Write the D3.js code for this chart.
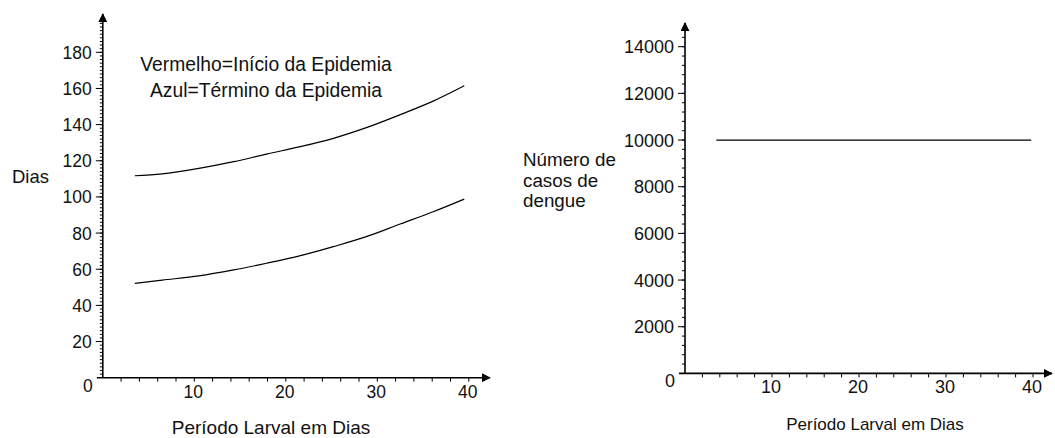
<!DOCTYPE html>
<html>
<head>
<meta charset="utf-8">
<script src="https://cdn.jsdelivr.net/npm/d3@7"></script>
<style>
  body { margin: 0; background: #fff; }
  svg { display: block; }
  text { font-family: "Liberation Sans", Arial, sans-serif; fill: #111; }
</style>
</head>
<body>
<svg class="chart" width="1055" height="438"></svg>
<script>
// período larval (dias) e dias de início / término da epidemia
var periodo = [3.5, 6.5, 10.5, 14.3, 17.9, 21.6, 25.2, 28.8, 32.5, 36.1, 39.5];
var inicio  = [52.2, 54.0, 56.3, 59.6, 63.3, 67.5, 72.5, 78.0, 85.0, 91.8, 98.8];
var termino = [111.7, 112.7, 115.8, 119.5, 123.7, 127.8, 132.4, 138.3, 145.5, 153.0, 161.5];

// número de casos de dengue
var periodoCasos = [3.6, 39.8];
var casos = [10000, 10000];

var xTicks = [10, 20, 30, 40];
var yTicksDias = [20, 40, 60, 80, 100, 120, 140, 160, 180];
var yTicksCasos = [2000, 4000, 6000, 8000, 10000, 12000, 14000];

var svg = d3.select('.chart');

svg.append('defs').append('marker')
  .attr('id', 'seta')
  .attr('viewBox', '0 0 10 10')
  .attr('refX', 9).attr('refY', 5)
  .attr('markerWidth', 9).attr('markerHeight', 9)
  .attr('markerUnits', 'userSpaceOnUse')
  .attr('orient', 'auto')
  .append('path')
  .attr('d', 'M0,0 L10,5 L0,10 Z')
  .attr('fill', '#000');

function drawAxes(x, y, opt) {
  var g = svg.append('g');
  var x0 = x(0), y0 = y(0);

  // minor ticks
  g.selectAll('line.ymin')
    .data(d3.range(opt.yStep, opt.yMax, opt.yStep))
    .join('line')
    .attr('x1', x0 - 3).attr('x2', x0)
    .attr('y1', function (d) { return y(d); })
    .attr('y2', function (d) { return y(d); })
    .attr('stroke', '#000');

  g.selectAll('line.ymaj')
    .data(opt.yTicks)
    .join('line')
    .attr('x1', x0 - 7).attr('x2', x0)
    .attr('y1', function (d) { return y(d); })
    .attr('y2', function (d) { return y(d); })
    .attr('stroke', '#000');

  g.selectAll('line.xmin')
    .data(d3.range(2, 41, 2))
    .join('line')
    .attr('x1', function (d) { return x(d); })
    .attr('x2', function (d) { return x(d); })
    .attr('y1', y0).attr('y2', y0 + 4)
    .attr('stroke', '#000');

  // axis lines with arrows
  g.append('line')
    .attr('x1', x0).attr('x2', x0)
    .attr('y1', y0).attr('y2', opt.yTop)
    .attr('stroke', '#000').attr('stroke-width', 1.6)
    .attr('marker-end', 'url(#seta)');
  g.append('line')
    .attr('x1', x0 - 6).attr('x2', opt.xRight)
    .attr('y1', y0).attr('y2', y0)
    .attr('stroke', '#000').attr('stroke-width', 1.6)
    .attr('marker-end', 'url(#seta)');

  g.selectAll('text.ylab')
    .data(opt.yTicks)
    .join('text')
    .attr('x', x0 - 11)
    .attr('y', function (d) { return y(d) + 6.5; })
    .attr('text-anchor', 'end')
    .style('font-size', opt.fs + 'px')
    .text(function (d) { return d; });

  g.selectAll('text.xlab')
    .data(xTicks)
    .join('text')
    .attr('x', function (d) { return x(d) - 1; })
    .attr('y', y0 + 20)
    .attr('text-anchor', 'middle')
    .style('font-size', opt.fs + 'px')
    .text(function (d) { return d; });

  g.append('text')
    .attr('x', x0 - 10).attr('y', y0 + 14)
    .attr('text-anchor', 'end')
    .style('font-size', opt.fs + 'px')
    .text('0');
}

// ---- gráfico da esquerda ----
var xL = d3.scaleLinear().domain([0, 40]).range([102.8, 468.8]);
var yL = d3.scaleLinear().domain([0, 180]).range([377.7, 52.3]);

drawAxes(xL, yL, { yTicks: yTicksDias, yStep: 2, yMax: 197, yTop: 14, xRight: 490, fs: 17.5 });

var line = d3.line().curve(d3.curveCatmullRom);

[inicio, termino].forEach(function (serie) {
  svg.append('path')
    .attr('d', line(periodo.map(function (p, i) { return [xL(p), yL(serie[i])]; })))
    .attr('fill', 'none')
    .attr('stroke', '#000')
    .attr('stroke-width', 1.2);
});

svg.append('text').attr('x', 266).attr('y', 71).attr('text-anchor', 'middle')
  .style('font-size', '19.3px').text('Vermelho=Início da Epidemia');
svg.append('text').attr('x', 266).attr('y', 97).attr('text-anchor', 'middle')
  .style('font-size', '19.3px').text('Azul=Término da Epidemia');
svg.append('text').attr('x', 12).attr('y', 183)
  .style('font-size', '18.5px').text('Dias');
svg.append('text').attr('x', 271).attr('y', 434).attr('text-anchor', 'middle')
  .style('font-size', '19px').text('Período Larval em Dias');

// ---- gráfico da direita ----
var xR = d3.scaleLinear().domain([0, 40]).range([685, 1033]);
var yR = d3.scaleLinear().domain([0, 14000]).range([373.4, 46.7]);

drawAxes(xR, yR, { yTicks: yTicksCasos, yStep: 400, yMax: 14500, yTop: 23, xRight: 1052, fs: 18 });

svg.append('path')
  .attr('d', line(periodoCasos.map(function (p, i) { return [xR(p), yR(casos[i])]; })))
  .attr('fill', 'none')
  .attr('stroke', '#000')
  .attr('stroke-width', 1.2);

var rotulo = svg.append('text').style('font-size', '18.8px');
['Número de', 'casos de', 'dengue'].forEach(function (t, i) {
  rotulo.append('tspan').attr('x', 523).attr('y', 166 + i * 20.5).text(t);
});
svg.append('text').attr('x', 875).attr('y', 430).attr('text-anchor', 'middle')
  .style('font-size', '17px').text('Período Larval em Dias');
</script>
</body>
</html>
